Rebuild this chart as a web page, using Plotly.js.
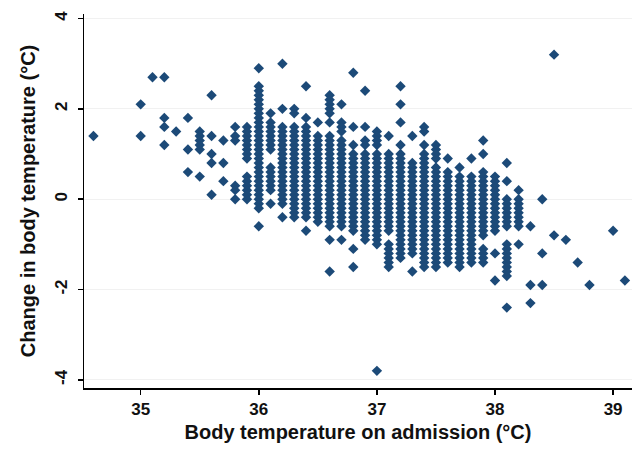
<!DOCTYPE html>
<html>
<head>
<meta charset="utf-8">
<script src="https://cdn.plot.ly/plotly-3.0.1.min.js"></script>
<style>html,body{margin:0;padding:0;background:#fff;}#chart{width:637px;height:452px;}</style>
</head>
<body>
<div id="chart"></div>
<script>
// Admission temperature columns (°C)
const admissionTemps = [34.6, 35.0, 35.1, 35.2, 35.3, 35.4, 35.5, 35.6, 35.7, 35.8, 35.9,
  36.0, 36.1, 36.2, 36.3, 36.4, 36.5, 36.6, 36.7, 36.8, 36.9,
  37.0, 37.1, 37.2, 37.3, 37.4, 37.5, 37.6, 37.7, 37.8, 37.9,
  38.0, 38.1, 38.2, 38.3, 38.4, 38.5, 38.6, 38.7, 38.8, 39.0, 39.1];

// Change in body temperature (°C) observed for each admission temperature column
const changeByColumn = [
  [1.4],
  [2.1, 1.4],
  [2.7],
  [2.7, 1.8, 1.6, 1.2],
  [1.5],
  [1.8, 1.1, 0.6],
  [1.5, 1.4, 1.3, 1.2, 1.1, 0.5],
  [2.3, 1.4, 1.0, 0.8, 0.1],
  [1.3, 0.8, 0.4],
  [1.6, 1.4, 1.3, 0.3, 0.2, 0.0],
  [1.6, 1.5, 1.4, 1.3, 1.2, 1.1, 1.0, 0.9, 0.5, 0.4, 0.3, 0.2, 0.1, 0.0],
  [2.9, 2.5, 2.4, 2.3, 2.2, 2.1, 2.0, 1.9, 1.8, 1.7, 1.6, 1.5, 1.4, 1.3, 1.2, 1.1, 1.0, 0.9, 0.8, 0.7, 0.6, 0.5, 0.4, 0.3, 0.2, 0.1, 0.0, -0.1, -0.2, -0.6],
  [1.9, 1.7, 1.6, 1.5, 1.4, 1.3, 1.2, 1.1, 0.7, 0.6, 0.5, 0.4, 0.3, 0.2, -0.1],
  [3.0, 2.0, 1.6, 1.5, 1.4, 1.3, 1.2, 1.1, 1.0, 0.9, 0.8, 0.7, 0.6, 0.5, 0.4, 0.3, 0.2, 0.1, 0.0, -0.1, -0.4],
  [2.0, 1.9, 1.6, 1.5, 1.4, 1.3, 1.2, 1.1, 1.0, 0.9, 0.8, 0.7, 0.6, 0.5, 0.4, 0.3, 0.2, 0.1, 0.0, -0.1, -0.2, -0.3, -0.4],
  [2.5, 1.8, 1.6, 1.5, 1.4, 1.3, 1.2, 1.1, 1.0, 0.9, 0.8, 0.7, 0.6, 0.5, 0.4, 0.3, 0.2, 0.1, 0.0, -0.1, -0.2, -0.3, -0.4, -0.7],
  [1.7, 1.4, 1.3, 1.2, 1.1, 1.0, 0.9, 0.8, 0.7, 0.6, 0.5, 0.4, 0.3, 0.2, 0.1, 0.0, -0.1, -0.2, -0.3, -0.4, -0.5],
  [2.3, 2.2, 2.1, 2.0, 1.9, 1.7, 1.4, 1.3, 1.2, 1.1, 1.0, 0.9, 0.8, 0.7, 0.6, 0.5, 0.4, 0.3, 0.2, 0.1, 0.0, -0.1, -0.2, -0.3, -0.4, -0.5, -0.6, -0.9, -1.6],
  [2.1, 1.7, 1.6, 1.5, 1.3, 1.2, 1.1, 1.0, 0.9, 0.8, 0.7, 0.6, 0.5, 0.4, 0.3, 0.2, 0.1, 0.0, -0.1, -0.2, -0.3, -0.4, -0.5, -0.6, -0.9],
  [2.8, 1.6, 1.2, 1.0, 0.9, 0.8, 0.7, 0.6, 0.5, 0.4, 0.3, 0.2, 0.1, 0.0, -0.1, -0.2, -0.3, -0.4, -0.5, -0.6, -0.7, -1.1, -1.5],
  [2.4, 1.6, 1.3, 1.2, 1.0, 0.9, 0.8, 0.7, 0.6, 0.5, 0.4, 0.3, 0.2, 0.1, 0.0, -0.1, -0.2, -0.3, -0.4, -0.5, -0.6, -0.7, -0.8, -0.9],
  [1.5, 1.4, 1.3, 1.2, 1.0, 0.9, 0.8, 0.7, 0.6, 0.5, 0.4, 0.3, 0.2, 0.1, 0.0, -0.1, -0.2, -0.3, -0.4, -0.5, -0.6, -0.7, -0.8, -0.9, -1.0, -3.8],
  [1.4, 1.0, 0.9, 0.8, 0.7, 0.6, 0.5, 0.4, 0.3, 0.2, 0.1, 0.0, -0.1, -0.2, -0.3, -0.4, -0.5, -0.6, -0.7, -1.0, -1.1, -1.2, -1.3, -1.4, -1.5],
  [2.5, 2.1, 1.7, 1.2, 1.0, 0.9, 0.8, 0.7, 0.6, 0.5, 0.4, 0.3, 0.2, 0.1, 0.0, -0.1, -0.2, -0.3, -0.4, -0.5, -0.6, -0.7, -0.8, -0.9, -1.0, -1.1, -1.2, -1.3],
  [1.4, 0.8, 0.7, 0.6, 0.5, 0.4, 0.3, 0.2, 0.1, 0.0, -0.1, -0.2, -0.3, -0.4, -0.5, -0.6, -0.7, -0.8, -0.9, -1.0, -1.1, -1.2, -1.6],
  [1.6, 1.5, 1.2, 1.0, 0.9, 0.8, 0.7, 0.6, 0.5, 0.4, 0.3, 0.2, 0.1, 0.0, -0.1, -0.2, -0.3, -0.4, -0.5, -0.6, -0.7, -0.8, -0.9, -1.0, -1.1, -1.2, -1.3, -1.4, -1.5],
  [1.2, 1.1, 1.0, 0.9, 0.7, 0.6, 0.5, 0.4, 0.3, 0.2, 0.1, 0.0, -0.1, -0.2, -0.3, -0.4, -0.5, -0.6, -0.7, -0.8, -0.9, -1.0, -1.1, -1.2, -1.3, -1.4, -1.5],
  [0.9, 0.6, 0.5, 0.4, 0.3, 0.2, 0.1, 0.0, -0.1, -0.2, -0.3, -0.4, -0.5, -0.6, -0.7, -0.8, -0.9, -1.0, -1.1, -1.2, -1.3, -1.4],
  [0.7, 0.5, 0.4, 0.3, 0.2, 0.1, 0.0, -0.1, -0.2, -0.3, -0.4, -0.5, -0.6, -0.7, -0.8, -0.9, -1.0, -1.1, -1.2, -1.3, -1.4, -1.5],
  [0.9, 0.5, 0.4, 0.3, 0.2, 0.1, 0.0, -0.1, -0.2, -0.3, -0.4, -0.5, -0.6, -0.7, -0.8, -0.9, -1.0, -1.1, -1.2, -1.3, -1.4],
  [1.3, 1.0, 0.6, 0.5, 0.4, 0.3, 0.2, 0.1, 0.0, -0.1, -0.2, -0.3, -0.4, -0.5, -0.6, -0.7, -0.8, -1.1, -1.2, -1.3, -1.4],
  [0.5, 0.4, 0.3, 0.2, 0.1, 0.0, -0.1, -0.2, -0.3, -0.4, -0.5, -0.6, -0.7, -1.2, -1.8],
  [0.8, 0.4, 0.0, -0.1, -0.2, -0.3, -0.4, -0.5, -0.6, -1.0, -1.1, -1.2, -1.3, -1.4, -1.5, -1.6, -1.7, -2.4],
  [0.2, 0.0, -0.1, -0.2, -0.3, -0.4, -0.5, -0.6, -1.0],
  [-0.6, -1.9, -2.3],
  [0.0, -1.2, -1.9],
  [3.2, -0.8],
  [-0.9],
  [-1.4],
  [-1.9],
  [-0.7],
  [-1.8]
];

const xTickVals = [35, 36, 37, 38, 39];
const yTickVals = [-4, -2, 0, 2, 4];

const xs = [], ys = [];
admissionTemps.forEach((t, i) => {
  changeByColumn[i].forEach(c => { xs.push(t); ys.push(c); });
});

const fontFam = 'Liberation Sans, Arial, sans-serif';

const trace = {
  type: 'scatter', mode: 'markers', x: xs, y: ys,
  marker: {symbol: 'diamond', size: 8, color: '#1c4a78'},
  hoverinfo: 'x+y', showlegend: false
};

const layout = {
  width: 637, height: 452,
  margin: {l: 84, r: 5, t: 14, b: 64},
  paper_bgcolor: '#fff', plot_bgcolor: '#fff',
  font: {family: fontFam, color: '#111', size: 18},
  xaxis: {
    range: [34.52, 39.16], tickvals: xTickVals, ticktext: xTickVals.map(String),
    showline: true, linecolor: '#000', linewidth: 1.5, mirror: false,
    ticks: 'outside', ticklen: 5, tickwidth: 1.5, tickcolor: '#000',
    showgrid: false, zeroline: false,
    tickfont: {size: 17, family: fontFam, color: '#111', weight: 'bold'},
    title: {text: 'Body temperature on admission (°C)', font: {size: 20, family: fontFam, color: '#111', weight: 'bold'}, standoff: 7}
  },
  yaxis: {
    range: [-4.18, 4.1], tickvals: yTickVals, ticktext: yTickVals.map(String),
    tickangle: -90, ticklabelstandoff: 4,
    showline: true, linecolor: '#000', linewidth: 1.5, mirror: false,
    ticks: 'outside', ticklen: 5, tickwidth: 1.5, tickcolor: '#000',
    showgrid: true, gridcolor: '#f1f1f1', gridwidth: 1, zeroline: false,
    tickfont: {size: 17, family: fontFam, color: '#111', weight: 'bold'},
    title: {text: 'Change in body temperature (°C)', font: {size: 20, family: fontFam, color: '#111', weight: 'bold'}, standoff: 10}
  }
};

Plotly.newPlot('chart', [trace], layout, {displayModeBar: false, staticPlot: true});
</script>
</body>
</html>
